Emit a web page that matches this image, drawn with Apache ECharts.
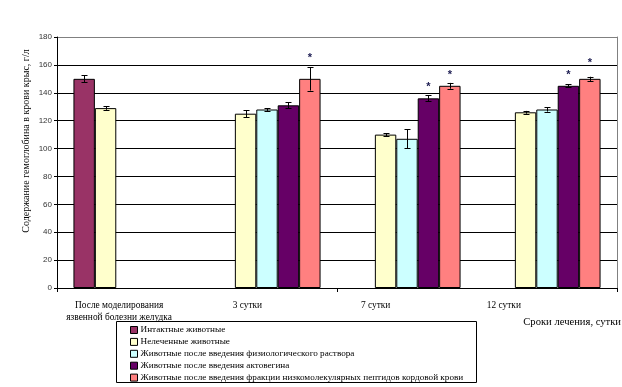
<!DOCTYPE html>
<html><head><meta charset="utf-8">
<script src="https://cdn.jsdelivr.net/npm/echarts@6/dist/echarts.min.js"></script>
<style>html,body{margin:0;padding:0;background:#fff}#c{width:622px;height:387px}</style>
</head><body><div id="c"></div>
<script>
const categories = ['После моделирования\nязвенной болезни желудка', '3 сутки', '7 сутки', '12 сутки'];
const seriesNames = ['Интактные животные', 'Нелеченные животные', 'Животные после введения физиологического раствора', 'Животные после введения актовегина', 'Животные после введения фракции низкомолекулярных пептидов кордовой крови'];
const intact = [150, null, null, null];
const intactErr = [2.5, null, null, null];
const untreated = [129, 125, 110, 126];
const untreatedErr = [1.2, 2.6, 1, 1];
const saline = [null, 128, 107, 128];
const salineErr = [null, 1, 6.8, 1.5];
const actovegin = [null, 131, 136, 145];
const actoveginErr = [null, 2.1, 2.1, 1];
const peptides = [null, 150, 145, 150];
const peptidesErr = [null, 8.4, 2.1, 1.5];
const actoveginStars = [null, null, 147, 155.5];
const peptidesStars = [null, 168, 155.5, 164];
const yTicks = [0, 20, 40, 60, 80, 100, 120, 140, 160, 180];
const colors = ['#993366', '#FFFFCC', '#CCFFFF', '#660066', '#FF8080'];

const values = [intact, untreated, saline, actovegin, peptides];
const errs = [intactErr, untreatedErr, salineErr, actoveginErr, peptidesErr];
const stars = [null, null, null, actoveginStars, peptidesStars];
const BW = 0.153;

const serif = '"Liberation Serif", "Times New Roman", serif';
const sans = '"Liberation Sans", Arial, sans-serif';

const series = [];
values.forEach((v, i) => {
  series.push({
    type: 'bar', name: seriesNames[i], data: v, barWidth: (BW * 100) + '%', barGap: '0%',
    itemStyle: { color: colors[i], borderColor: '#000', borderWidth: 1 },
    xAxisIndex: 0, yAxisIndex: 0, animation: false
  });
});
values.forEach((v, i) => {
  const d = [];
  v.forEach((val, k) => { if (val != null) d.push([k, val, errs[i][k]]); });
  series.push({
    type: 'custom', name: 'err' + i, xAxisIndex: 0, yAxisIndex: 0, animation: false, z: 5,
    renderItem: function (params, api) {
      const k = api.value(0), val = api.value(1), e = api.value(2);
      const w = api.size([1, 0])[0];
      const off = (i - 2) * BW * w;
      const hi = api.coord([k, val + e]), lo = api.coord([k, val - e]);
      const x = Math.round(hi[0] + off) + 0.5;
      const cap = 3;
      return { type: 'group', children: [
        { type: 'line', shape: { x1: x, y1: hi[1], x2: x, y2: lo[1] }, style: { stroke: '#000', lineWidth: 1 } },
        { type: 'line', shape: { x1: x - cap, y1: Math.round(hi[1]) + 0.5, x2: x + cap, y2: Math.round(hi[1]) + 0.5 }, style: { stroke: '#000', lineWidth: 1 } },
        { type: 'line', shape: { x1: x - cap, y1: Math.round(lo[1]) + 0.5, x2: x + cap, y2: Math.round(lo[1]) + 0.5 }, style: { stroke: '#000', lineWidth: 1 } }
      ]};
    },
    data: d
  });
  if (stars[i]) {
    const sd = [];
    stars[i].forEach((val, k) => { if (val != null) sd.push([k, val]); });
    series.push({
      type: 'custom', name: 'star' + i, xAxisIndex: 0, yAxisIndex: 0, animation: false, z: 6,
      renderItem: function (params, api) {
        const k = api.value(0), val = api.value(1);
        const w = api.size([1, 0])[0];
        const off = (i - 2) * BW * w;
        const p = api.coord([k, val]);
        return { type: 'text', x: p[0] + off, y: p[1] + 4,
          style: { text: '*', fill: '#1a1a50', font: 'bold 11px ' + sans, align: 'center', verticalAlign: 'middle' } };
      },
      data: sd
    });
  }
});

const splitColors = yTicks.map((t, idx) => idx === yTicks.length - 1 ? '#808080' : '#000');

const option = {
  backgroundColor: '#fff',
  animation: false,
  color: colors,
  grid: [
    { left: 57, right: 5, top: 37, bottom: 99 },
    { left: 55, right: 54, top: 37, bottom: 99 }
  ],
  legend: {
    orient: 'vertical', left: 130, top: 325, padding: 0,
    itemWidth: 7, itemHeight: 7, itemGap: 1.9,
    data: seriesNames,
    textStyle: { fontFamily: serif, fontSize: 9.2, color: '#000', lineHeight: 10, padding: [0, 0, 0, -2] },
    itemStyle: { borderColor: '#000', borderWidth: 1 },
    icon: 'rect'
  },
  xAxis: [
    { type: 'category', data: categories, gridIndex: 0,
      axisLine: { lineStyle: { color: '#000', width: 1 } },
      axisTick: { show: true, length: 4, lineStyle: { color: '#000' } },
      axisLabel: { show: false }, splitLine: { show: false } },
    { type: 'category', data: categories, gridIndex: 1,
      axisLine: { show: false }, axisTick: { show: false },
      axisLabel: { show: true, interval: 0, fontFamily: serif, fontSize: 9.4, color: '#000', lineHeight: 12.5, margin: 11 },
      splitLine: { show: false } }
  ],
  yAxis: [
    { type: 'value', gridIndex: 0, min: 0, max: 180, interval: 20,
      axisLine: { show: true, lineStyle: { color: '#000' } },
      axisTick: { show: true, length: 3, lineStyle: { color: '#000' } },
      axisLabel: { fontFamily: sans, fontSize: 8, color: '#333', margin: 5 },
      splitLine: { show: true, lineStyle: { color: splitColors, width: 1 } } },
    { type: 'value', gridIndex: 0, position: 'right', min: 0, max: 180, interval: 20,
      axisLine: { show: true, lineStyle: { color: '#808080' } },
      axisTick: { show: false }, axisLabel: { show: false }, splitLine: { show: false } },
    { type: 'value', gridIndex: 1, min: 0, max: 180, show: false }
  ],
  graphic: [
    { type: 'text', x: 26, y: 141, rotation: Math.PI / 2,
      style: { text: 'Содержание гемоглобина в крови крыс, г/л', font: '10px ' + serif, fill: '#000', align: 'center', verticalAlign: 'middle' } },
    { type: 'text', x: 621, y: 322,
      style: { text: 'Сроки лечения, сутки', font: '10.6px ' + serif, fill: '#000', align: 'right', verticalAlign: 'middle' } },
    { type: 'rect', shape: { x: 116.5, y: 321.5, width: 360, height: 61 },
      style: { fill: 'none', stroke: '#000', lineWidth: 1 }, z: 0 }
  ],
  series: series
};
const chart = echarts.init(document.getElementById('c'), null, { renderer: 'canvas' });
chart.setOption(option);
</script></body></html>
